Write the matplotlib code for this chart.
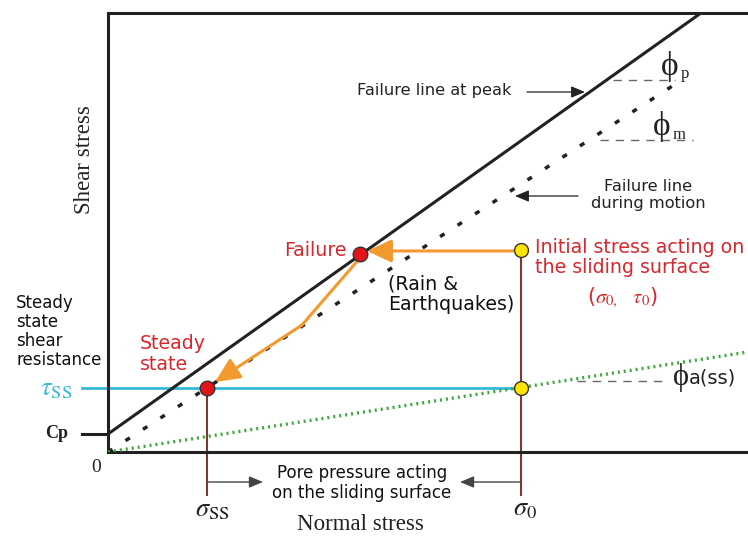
import numpy as np
import matplotlib.pyplot as plt

# Stress values (arbitrary units, origin at 0,0)
sigma_0, tau_0 = 413, 202          # initial stress state
sigma_f, tau_f = 252, 198          # failure point
sigma_ss, tau_ss = 99, 64          # steady state
cp = 18                            # cohesion at peak

peak_x = [0, 593]
peak_y = [cp, 439]
motion_x = [0, 569]
motion_y = [0, 369]
apparent_x = [0, 640]
apparent_y = [0, 100]
path_x = [sigma_f, 194, 107]
path_y = [194, 127, 70]

# Colors
RED = '#d6282f'
DOT_RED = '#e3141c'
YELLOW = '#ffe500'
ORANGE = '#f29a2e'
CYAN = '#35b9dc'
BROWN = '#7a3a30'
GREEN = '#3aa83a'
DARK = '#222222'
GRAY = '#444444'
SERIF = ['Liberation Serif', 'DejaVu Serif']

plt.rcParams['font.family'] = 'DejaVu Sans'
plt.rcParams['mathtext.fontset'] = 'stix'

fig = plt.figure(figsize=(7.48, 5.36), dpi=100)
ax = fig.add_axes([108 / 748, 84 / 536, 640 / 748, 439 / 536])
ax.set_xlim(0, 640)
ax.set_ylim(0, 439)
ax.set_xticks([])
ax.set_yticks([])
ax.spines['right'].set_visible(False)
for s in ['left', 'top', 'bottom']:
    ax.spines[s].set_linewidth(2.2)
    ax.spines[s].set_color(DARK)

# Failure envelopes
ax.plot(peak_x, peak_y, color=DARK, lw=2.2, solid_capstyle='butt', zorder=3)
ax.plot(motion_x, motion_y, color=DARK, lw=2.5, linestyle=(0, (1.5, 4.5)), zorder=3)
ax.plot(apparent_x, apparent_y, color=GREEN, lw=2.4, linestyle=(0, (0.6, 1.2)), zorder=3)

# Cp stub and tau_ss line
ax.plot([-26, 0], [cp, cp], color=DARK, lw=2.2, clip_on=False)
ax.plot([-26, sigma_0], [tau_ss, tau_ss], color=CYAN, lw=2, clip_on=False, zorder=2)

# Vertical lines down to sigma labels
ax.plot([sigma_0, sigma_0], [tau_0, -43], color=BROWN, lw=1.5, clip_on=False, zorder=2)
ax.plot([sigma_ss, sigma_ss], [tau_ss, -43], color=BROWN, lw=1.5, clip_on=False, zorder=2)


def arrow(x0, y0, x1, y1, color, lw, scale, hl, hw, z=4):
    ax.annotate('', xy=(x1, y1), xytext=(x0, y0), annotation_clip=False,
                arrowprops=dict(arrowstyle=f'-|>,head_length={hl},head_width={hw}',
                                color=color, lw=lw, mutation_scale=scale,
                                shrinkA=0, shrinkB=0),
                zorder=z)


# Stress path (orange)
arrow(sigma_0 - 8, tau_0 - 1, sigma_f + 7, tau_0 - 1, ORANGE, 2.2, 20, 0.75, 0.35)
ax.plot(path_x[:2], path_y[:2], color=ORANGE, lw=2.2, zorder=4)
arrow(path_x[1], path_y[1], path_x[2], path_y[2], ORANGE, 2.2, 20, 0.75, 0.35)

# Points
ax.plot([sigma_0, sigma_0], [tau_0, tau_ss], 'o', ms=10, mfc=YELLOW, mec='#333333', mew=1, zorder=6)
ax.plot([sigma_f, sigma_ss], [tau_f, tau_ss], 'o', ms=10.5, mfc=DOT_RED, mec='#333333', mew=1, zorder=6)

# Angle markers
ax.plot([505, 567], [372, 372], color='#666666', lw=1, linestyle=(0, (6, 5)))
ax.plot([492, 585], [312, 312], color='#666666', lw=1, linestyle=(0, (6, 5)))
ax.plot([469, 560], [71, 71], color='#666666', lw=1, linestyle=(0, (6, 5)))
ax.text(562, 386, '\u03d5', fontsize=24, family=SERIF, ha='center', va='center', color=DARK)
ax.text(573, 378, 'p', fontsize=12, family=SERIF, ha='left', va='center', color=DARK)
ax.text(554, 325, '\u03d5', fontsize=24, family=SERIF, ha='center', va='center', color=DARK)
ax.text(565, 317, 'm', fontsize=12, family=SERIF, ha='left', va='center', color=DARK)
ax.text(565, 74, '\u03d5', fontsize=22, family=SERIF, ha='left', va='center', color=DARK)
ax.text(581, 74, 'a(ss)', fontsize=14, ha='left', va='center', color=DARK)

# Line annotations
ax.text(249, 362, 'Failure line at peak', fontsize=11.7, ha='left', va='center', color=DARK)
arrow(419, 360, 477, 360, DARK, 0.9, 14, 0.6, 0.25)
ax.text(540, 257, 'Failure line\nduring motion', fontsize=11.7, ha='center', va='center',
        color=DARK, linespacing=1.15)
arrow(470, 256, 407, 256, DARK, 0.9, 14, 0.6, 0.25)

# State labels
ax.text(239, 201, 'Failure', fontsize=13.7, ha='right', va='center', color=RED)
ax.text(280, 178, '(Rain &\nEarthquakes)', fontsize=13.7, ha='left', va='top',
        color='#111111', linespacing=1.1)
ax.text(427, 214, 'Initial stress acting on\nthe sliding surface', fontsize=13.7,
        ha='left', va='top', color=RED, linespacing=1.05)
ax.text(514, 154, r'($\sigma_{0,}$  $\tau_0$)', fontsize=15, ha='center', va='center', color=RED)
ax.text(32, 118, 'Steady\nstate', fontsize=13.7, ha='left', va='top', color=RED, linespacing=1.1)
ax.text(-92, 158, 'Steady\nstate\nshear\nresistance', fontsize=12, ha='left', va='top',
        color='#111111', linespacing=1.08)

# Pore pressure annotation
ax.text(254, -31, 'Pore pressure acting\non the sliding surface', fontsize=12, ha='center',
        va='center', color='#111111', linespacing=1.1)
arrow(sigma_ss, -30, 155, -30, GRAY, 1, 14, 0.6, 0.25)
arrow(sigma_0, -30, 352, -30, GRAY, 1, 14, 0.6, 0.25)

# Axis labels and symbols
ax.text(-23, 292, 'Shear stress', fontsize=16.5, family=SERIF, rotation=90,
        ha='center', va='center', color=DARK)
ax.text(252, -73, 'Normal stress', fontsize=16.5, family=SERIF,
        ha='center', va='center', color=DARK)
ax.text(-12, -15, '0', fontsize=14, family=SERIF, ha='center', va='center', color=DARK)
ax.text(-40, cp, 'Cp', fontsize=13, family=SERIF, fontweight='bold',
        ha='right', va='center', color=DARK)
ax.text(-36, tau_ss, r'$\tau_{\mathrm{SS}}$', fontsize=19, ha='right', va='center', color=CYAN)
ax.text(sigma_ss + 5, -57, r'$\sigma_{\mathrm{SS}}$', fontsize=19, ha='center', va='center', color=DARK)
ax.text(sigma_0 + 4, -56, r'$\sigma_0$', fontsize=19, ha='center', va='center', color=DARK)

fig.savefig('out.png', dpi=100)
